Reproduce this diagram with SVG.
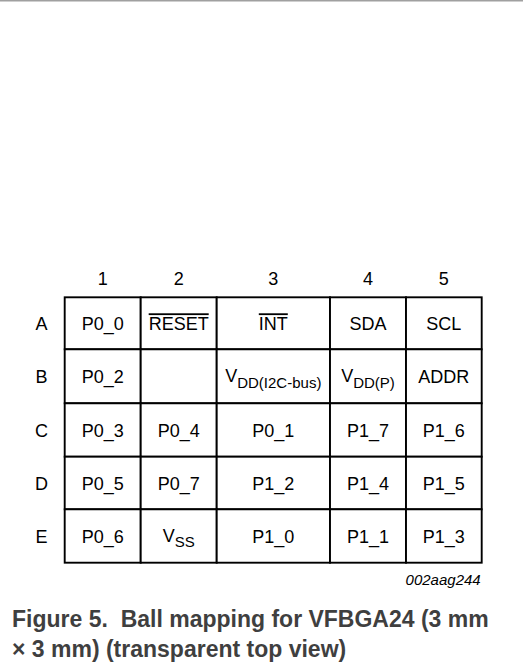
<svg xmlns="http://www.w3.org/2000/svg" width="523" height="664" viewBox="0 0 523 664">
<style>
  .cell { fill: #ffffff; stroke: #000000; stroke-width: 1.9; }
  .t { font-family: "Liberation Sans", Arial, sans-serif; font-size: 18px; fill: #000000; text-anchor: middle; }
  .sub { font-size: 15px; }
  .ol { text-decoration: overline; }
  .code { font-family: "Liberation Sans", Arial, sans-serif; font-size: 15px; font-style: italic; fill: #000000; text-anchor: end; }
  .cap { font-family: "Liberation Sans", Arial, sans-serif; font-size: 23px; font-weight: bold; fill: #3f3f3f; white-space: pre; }
</style>
<rect x="0" y="0" width="523" height="664" fill="#ffffff"/>
<line x1="0" y1="0.8" x2="523" y2="0.8" stroke="#a0a0a0" stroke-width="1.6"/>

<g id="col-headers">
  <text class="t" x="102.7" y="285">1</text>
  <text class="t" x="178.7" y="285">2</text>
  <text class="t" x="273.3" y="285">3</text>
  <text class="t" x="368" y="285">4</text>
  <text class="t" x="443.8" y="285">5</text>
</g>
<g id="row-headers">
  <text class="t" x="41.5" y="330.3">A</text>
  <text class="t" x="41.5" y="383.3">B</text>
  <text class="t" x="41.5" y="437">C</text>
  <text class="t" x="41.5" y="490">D</text>
  <text class="t" x="41.5" y="543">E</text>
</g>

<!-- Row A -->
<g id="A1"><rect class="cell" x="64.7" y="297.3" width="76" height="52"/><text class="t" x="102.7" y="330.3">P0_0</text></g>
<g id="A2"><rect class="cell" x="140.7" y="297.3" width="76" height="52"/><text class="t ol" x="178.7" y="330.3">RESET</text></g>
<g id="A3"><rect class="cell" x="216.7" y="297.3" width="113.3" height="52"/><text class="t ol" x="273.3" y="330.3">INT</text></g>
<g id="A4"><rect class="cell" x="330" y="297.3" width="76" height="52"/><text class="t" x="368" y="330.3">SDA</text></g>
<g id="A5"><rect class="cell" x="406" y="297.3" width="75.7" height="52"/><text class="t" x="443.8" y="330.3">SCL</text></g>

<!-- Row B -->
<g id="B1"><rect class="cell" x="64.7" y="349.3" width="76" height="54"/><text class="t" x="102.7" y="383.3">P0_2</text></g>
<g id="B2"><rect class="cell" x="140.7" y="349.3" width="76" height="54"/></g>
<g id="B3"><rect class="cell" x="216.7" y="349.3" width="113.3" height="54"/><text class="t" x="273.3" y="382">V<tspan class="sub" dy="5.5">DD(I2C-bus)</tspan></text></g>
<g id="B4"><rect class="cell" x="330" y="349.3" width="76" height="54"/><text class="t" x="368" y="382">V<tspan class="sub" dy="5.5">DD(P)</tspan></text></g>
<g id="B5"><rect class="cell" x="406" y="349.3" width="75.7" height="54"/><text class="t" x="443.8" y="383.3">ADDR</text></g>

<!-- Row C -->
<g id="C1"><rect class="cell" x="64.7" y="403.3" width="76" height="53.4"/><text class="t" x="102.7" y="437">P0_3</text></g>
<g id="C2"><rect class="cell" x="140.7" y="403.3" width="76" height="53.4"/><text class="t" x="178.7" y="437">P0_4</text></g>
<g id="C3"><rect class="cell" x="216.7" y="403.3" width="113.3" height="53.4"/><text class="t" x="273.3" y="437">P0_1</text></g>
<g id="C4"><rect class="cell" x="330" y="403.3" width="76" height="53.4"/><text class="t" x="368" y="437">P1_7</text></g>
<g id="C5"><rect class="cell" x="406" y="403.3" width="75.7" height="53.4"/><text class="t" x="443.8" y="437">P1_6</text></g>

<!-- Row D -->
<g id="D1"><rect class="cell" x="64.7" y="456.7" width="76" height="52.6"/><text class="t" x="102.7" y="490">P0_5</text></g>
<g id="D2"><rect class="cell" x="140.7" y="456.7" width="76" height="52.6"/><text class="t" x="178.7" y="490">P0_7</text></g>
<g id="D3"><rect class="cell" x="216.7" y="456.7" width="113.3" height="52.6"/><text class="t" x="273.3" y="490">P1_2</text></g>
<g id="D4"><rect class="cell" x="330" y="456.7" width="76" height="52.6"/><text class="t" x="368" y="490">P1_4</text></g>
<g id="D5"><rect class="cell" x="406" y="456.7" width="75.7" height="52.6"/><text class="t" x="443.8" y="490">P1_5</text></g>

<!-- Row E -->
<g id="E1"><rect class="cell" x="64.7" y="509.3" width="76" height="53.4"/><text class="t" x="102.7" y="543">P0_6</text></g>
<g id="E2"><rect class="cell" x="140.7" y="509.3" width="76" height="53.4"/><text class="t" x="178.7" y="542">V<tspan class="sub" dy="4.5">SS</tspan></text></g>
<g id="E3"><rect class="cell" x="216.7" y="509.3" width="113.3" height="53.4"/><text class="t" x="273.3" y="543">P1_0</text></g>
<g id="E4"><rect class="cell" x="330" y="509.3" width="76" height="53.4"/><text class="t" x="368" y="543">P1_1</text></g>
<g id="E5"><rect class="cell" x="406" y="509.3" width="75.7" height="53.4"/><text class="t" x="443.8" y="543">P1_3</text></g>

<g id="connectors"></g>

<text class="code" x="480.7" y="585">002aag244</text>
<text class="cap" x="12" y="626.7">Figure 5.  Ball mapping for VFBGA24 (3 mm</text>
<text class="cap" x="12" y="656.7">× 3 mm) (transparent top view)</text>
</svg>
